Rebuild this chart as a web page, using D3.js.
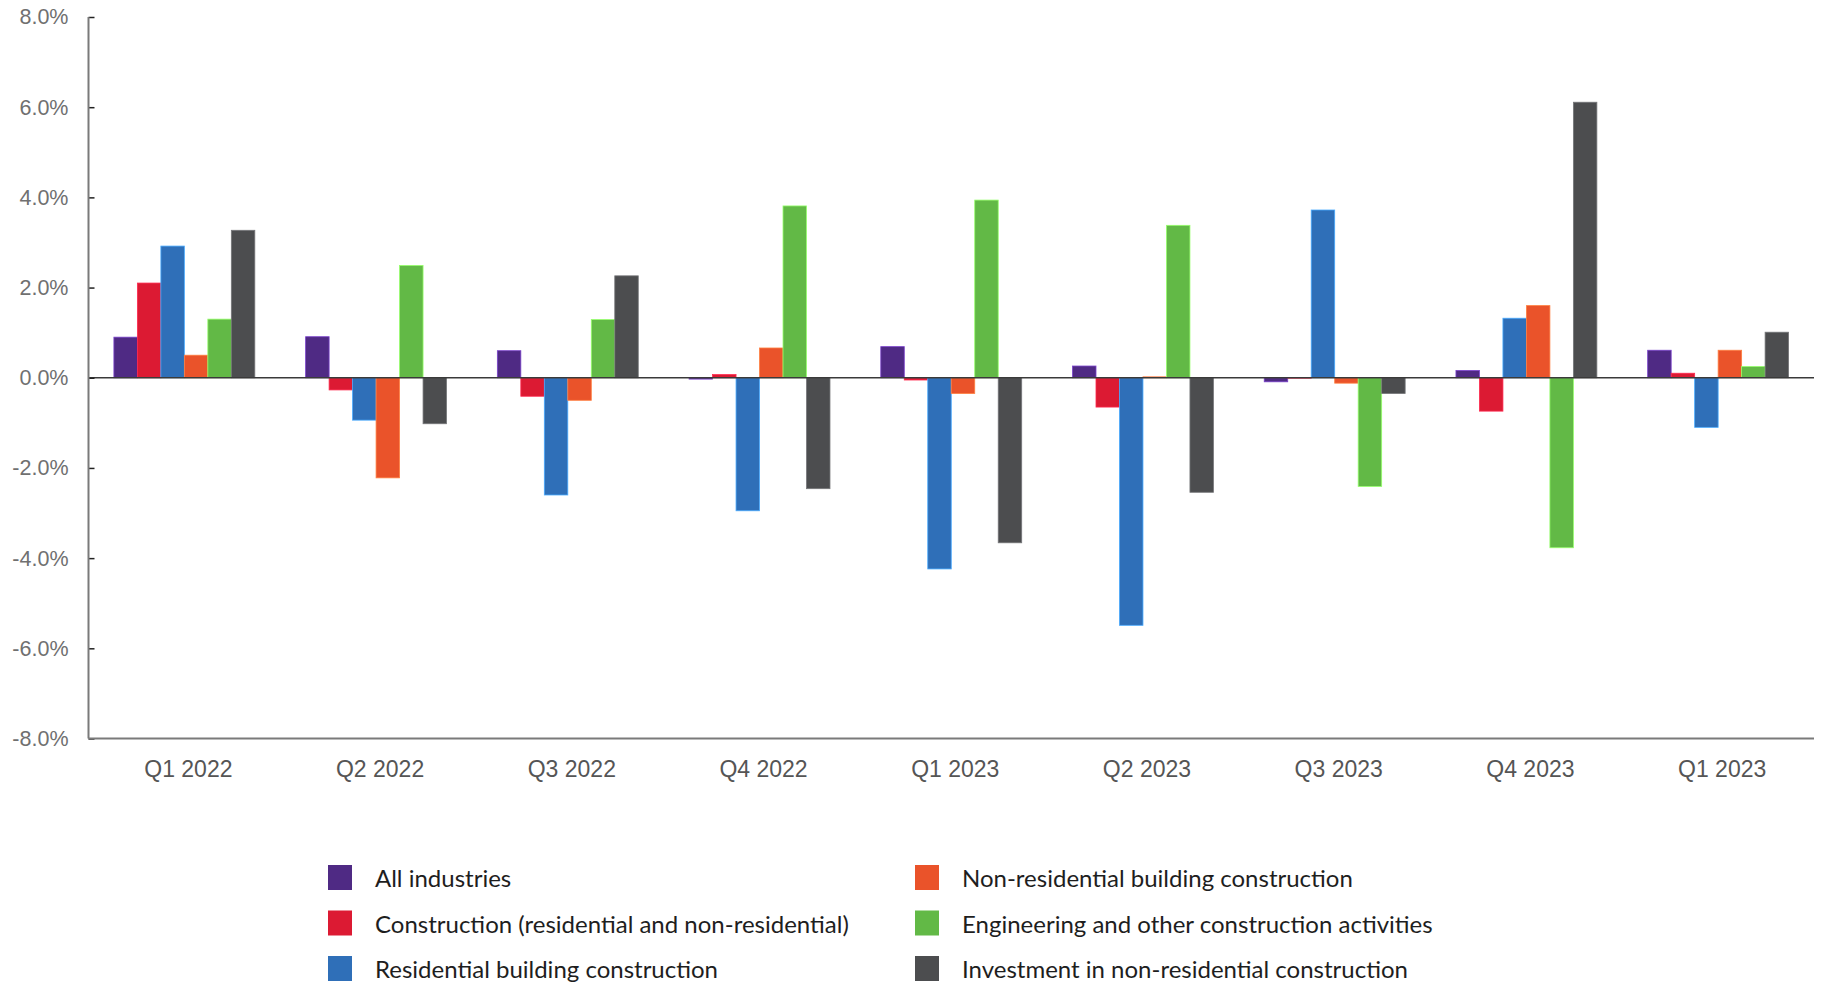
<!DOCTYPE html>
<html>
<head>
<meta charset="utf-8">
<script src="https://cdn.jsdelivr.net/npm/d3@7/dist/d3.min.js"></script>
<style>
  html, body { margin: 0; padding: 0; background: #fff; }
  svg { display: block; font-family: Lato, "Open Sans", sans-serif; }
</style>
</head>
<body>
<svg id="chart" width="1828" height="984"></svg>
<script>
// Quarter labels along the x axis
const quarters = ["Q1 2022", "Q2 2022", "Q3 2022", "Q4 2022", "Q1 2023", "Q2 2023", "Q3 2023", "Q4 2023", "Q1 2023"];

// Series names and colours
const seriesNames = [
  "All industries",
  "Construction (residential and non-residential)",
  "Residential building construction",
  "Non-residential building construction",
  "Engineering and other construction activities",
  "Investment in non-residential construction"
];
const seriesColors = ["#4f2a84", "#dc1a33", "#2f6fb8", "#ea532a", "#62b946", "#4c4d4f"];

// Quarterly change (%) per series
const allIndustries   = [0.90, 0.91, 0.60, -0.03, 0.69, 0.26, -0.09, 0.16, 0.61];
const construction    = [2.10, -0.27, -0.41, 0.07, -0.05, -0.65, -0.01, -0.74, 0.10];
const residential     = [2.92, -0.94, -2.60, -2.95, -4.24, -5.49, 3.72, 1.32, -1.10];
const nonResidential  = [0.50, -2.22, -0.50, 0.66, -0.35, 0.02, -0.12, 1.60, 0.61];
const engineering     = [1.30, 2.49, 1.29, 3.81, 3.94, 3.38, -2.41, -3.77, 0.25];
const investment      = [3.27, -1.02, 2.26, -2.46, -3.66, -2.54, -0.35, 6.11, 1.01];

const seriesValues = [allIndustries, construction, residential, nonResidential, engineering, investment];

// Y axis ticks
const yTicks = [-8, -6, -4, -2, 0, 2, 4, 6, 8];

const svg = d3.select("#chart");
const plotLeft = 88.5, plotRight = 1814, plotTop = 17, plotBottom = 738.5;

const qIdx = d3.range(quarters.length);
const x0 = d3.scaleBand().domain(qIdx).range([plotLeft, plotRight]).paddingInner(0.265).paddingOuter(0.1325);
const x1 = d3.scaleBand().domain(d3.range(seriesNames.length)).range([0, x0.bandwidth()]);
const y = d3.scaleLinear().domain([-8, 8]).range([plotBottom, plotTop]);

// Bars
const groups = svg.append("g")
  .selectAll("g")
  .data(qIdx)
  .join("g")
  .attr("transform", d => `translate(${x0(d)},0)`);

groups.selectAll("rect")
  .data(qi => seriesValues.map((vals, si) => ({ si, v: vals[qi] })))
  .join("rect")
  .attr("x", d => x1(d.si))
  .attr("width", x1.bandwidth())
  .attr("y", d => y(Math.max(0, d.v)))
  .attr("height", d => Math.abs(y(d.v) - y(0)))
  .attr("fill", d => seriesColors[d.si])
  .attr("stroke", d => d3.color(seriesColors[d.si]).brighter(1.2))
  .attr("stroke-width", 0.8);

// Zero line
svg.append("line")
  .attr("x1", plotLeft).attr("x2", plotRight)
  .attr("y1", y(0)).attr("y2", y(0))
  .attr("stroke", "#3a3a3a").attr("stroke-width", 1.6);

// Y axis (plain hyphen for negatives)
const yAxis = d3.axisRight(y)
  .tickValues(yTicks)
  .tickSize(6)
  .tickFormat(d => d.toFixed(1) + "%");
const yg = svg.append("g").attr("transform", `translate(${plotLeft},0)`).call(yAxis);
yg.select(".domain").remove();
yg.selectAll(".tick line").attr("stroke", "#222").attr("stroke-width", 1.5);
yg.selectAll(".tick text")
  .attr("x", -20)
  .attr("text-anchor", "end")
  .attr("fill", "#707070")
  .attr("font-size", 21.5);

svg.append("line")
  .attr("x1", plotLeft).attr("x2", plotLeft)
  .attr("y1", plotTop).attr("y2", plotBottom)
  .attr("stroke", "#7a7a7a").attr("stroke-width", 2);

// X axis
const xAxis = d3.axisBottom(x0).tickSize(0).tickFormat(i => quarters[i]);
const xg = svg.append("g").attr("transform", `translate(0,${plotBottom})`).call(xAxis);
xg.select(".domain").remove();
xg.selectAll(".tick text")
  .attr("dx", 4)
  .attr("dy", "1.55em")
  .attr("fill", "#555")
  .attr("font-size", 23);

svg.append("line")
  .attr("x1", plotLeft).attr("x2", plotRight)
  .attr("y1", plotBottom).attr("y2", plotBottom)
  .attr("stroke", "#7a7a7a").attr("stroke-width", 2);

// Legend: two columns of three
const legendCols = [328, 915];
const legendRows = [878, 923.5, 969];
const legend = svg.append("g")
  .selectAll("g")
  .data(seriesNames)
  .join("g")
  .attr("transform", (d, i) => `translate(${legendCols[Math.floor(i / 3)]},${legendRows[i % 3]})`);

legend.append("rect")
  .attr("x", 0).attr("y", -13)
  .attr("width", 24).attr("height", 25)
  .attr("fill", (d, i) => seriesColors[i]);

legend.append("text")
  .attr("x", 47)
  .attr("dy", "0.38em")
  .attr("fill", "#1e1e1e")
  .attr("font-size", 24)
  .text(d => d);
</script>
</body>
</html>
